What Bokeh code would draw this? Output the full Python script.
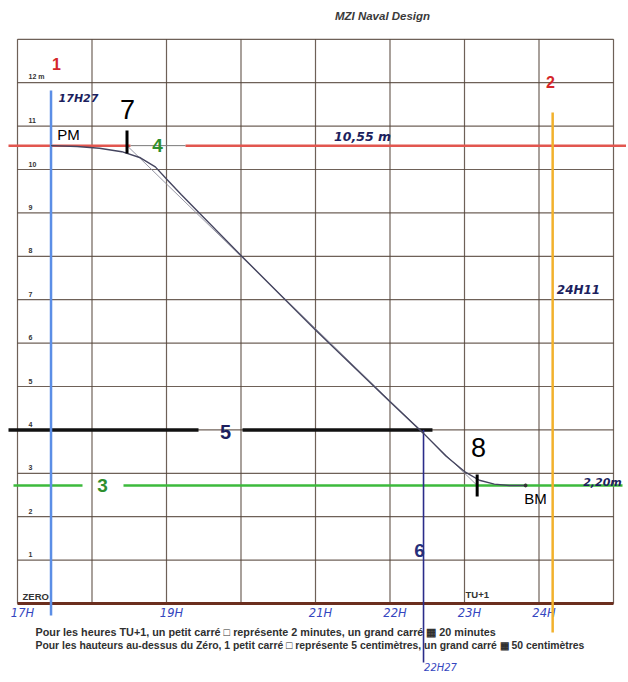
from bokeh.plotting import figure
from bokeh.models import Range1d
from bokeh.core.properties import value
from bokeh.embed import file_html
from bokeh.resources import INLINE

# ---------------- data ----------------
grid_hours = [17, 18, 19, 20, 21, 22, 23, 24, 25]
grid_heights = [0, 1, 2, 3, 4, 5, 6, 7, 8, 9, 10, 11, 12, 13]
height_labels = ["ZERO", "1", "2", "3", "4", "5", "6", "7", "8", "9", "10", "11", "12 m"]
hour_label_values = [17, 19, 21, 22, 23, 24]
hour_label_texts = ["17H", "19H", "21H", "22H", "23H", "24H"]

# tide curve (time in hours TU+1, height in m)
tide_time = [17.45, 17.8, 18.1, 18.4, 18.65, 18.85, 19.0, 19.2, 20.0, 21.0, 22.0,
             22.45, 22.75, 23.0, 23.2, 23.4, 23.6, 23.82]
tide_height = [10.55, 10.53, 10.49, 10.41, 10.27, 10.06, 9.78, 9.42, 8.02, 6.3, 4.65,
               3.92, 3.4, 3.04, 2.84, 2.75, 2.72, 2.72]

# straight construction line (marks 7 and 8)
chord_time = [18.47, 23.17]
chord_height = [10.55, 2.72]

pm_time = 17 + 27 / 60      # 17h27
pm_height = 10.55
bm_height = 2.72
line2_time = 24 + 11 / 60   # 24h11
level5_height = 4.0
line6_time = 22 + 27 / 60   # 22h27

# ---------------- geometry helpers (page pixels -> data) ----------------
X0, W = 17.0, 74.5
Y0, H = 603.0, 43.4
OX, OY = 0, 0
CW, CH = 626, 680


def tx(x):
    return 17 + (x - X0) / W


def hy(y):
    return (Y0 - y) / H


p = figure(width=CW, height=CH,
           x_range=Range1d(tx(OX), tx(OX + CW)), y_range=Range1d(hy(OY + CH), hy(OY)),
           output_backend="svg", toolbar_location=None, min_border=0)
p.axis.visible = False
p.grid.visible = False
p.outline_line_color = None
p.background_fill_color = "white"
p.border_fill_color = "white"

GRID = "#55453b"
# grid
p.segment(x0=grid_hours, y0=[0] * len(grid_hours), x1=grid_hours, y1=[13] * len(grid_hours),
          line_color=GRID, line_width=1.2, line_alpha=0.85)
p.segment(x0=[17] * len(grid_heights), y0=grid_heights, x1=[25] * len(grid_heights), y1=grid_heights,
          line_color=GRID, line_width=1.2, line_alpha=0.85)
p.segment(x0=[17], y0=[0], x1=[25], y1=[0], line_color="#6b2e1e", line_width=3)

FONT = value("Liberation Sans")
NAVY = "#1c1f5e"
HAND = "#3446c0"

# height labels
p.text(x=[tx(28)] * 12, y=[h + 3 / H for h in grid_heights[1:13]], text=height_labels[1:13],
       text_font=FONT, text_font_size="7px", text_font_style="bold",
       text_color="#333333", text_baseline="bottom", text_align="left")
p.text(x=[tx(22)], y=[hy(601)], text=[height_labels[0]], text_font=FONT, text_font_size="9.5px",
       text_font_style="bold", text_color="#333333", text_baseline="bottom", text_align="left")
p.text(x=[tx(465)], y=[hy(599)], text=["TU+1"], text_font=FONT, text_font_size="9.5px",
       text_font_style="bold", text_color="#333333", text_baseline="bottom", text_align="left")

# title
p.text(x=[tx(382)], y=[hy(15)], text=["MZI Naval Design"], text_font=FONT, text_font_size="11.5px",
       text_font_style="bold italic", text_color="#3a3a3a", text_align="center", text_baseline="middle")

# handwritten hour labels
p.text(x=hour_label_values, y=[hy(612)] * len(hour_label_values), text=hour_label_texts,
       text_font=value("DejaVu Sans"), text_font_size="11.5px", text_font_style="italic",
       text_color=HAND, text_align="center", text_baseline="middle", x_offset=5)

# footer
p.text(x=[tx(35)], y=[hy(631)],
       text=["Pour les heures TU+1, un petit carré \u25a1 représente 2 minutes,  un grand carré \u25a6 20  minutes"],
       text_font=FONT, text_font_size="10.8px", text_font_style="bold", text_color="#303030",
       text_baseline="middle", text_align="left")
p.text(x=[tx(35)], y=[hy(645)],
       text=["Pour les hauteurs au-dessus du Zéro, 1 petit carré \u25a1 représente 5 centimètres, un grand carré \u25a6  50 centimètres"],
       text_font=FONT, text_font_size="10.4px", text_font_style="bold", text_color="#303030",
       text_baseline="middle", text_align="left")

# red PM line (10.55 m) with gap around "4"
p.segment(x0=[tx(8), tx(185)], y0=[pm_height] * 2, x1=[tx(130), tx(628)], y1=[pm_height] * 2,
          line_color="#e2564f", line_width=2.5)
p.segment(x0=[tx(130)], y0=[pm_height], x1=[tx(185)], y1=[pm_height], line_color="#7a7a7a", line_width=1)
# green low-water line with gap around "3"
p.segment(x0=[tx(13), tx(123)], y0=[bm_height] * 2, x1=[tx(82), tx(622)], y1=[bm_height] * 2,
          line_color="#3cba3c", line_width=2.5)
# black 4 m line with gap around "5"
p.segment(x0=[tx(8), tx(242)], y0=[level5_height] * 2, x1=[tx(198), line6_time + 0.12],
          y1=[level5_height] * 2, line_color="#111111", line_width=3.5)
# blue vertical 1
p.segment(x0=[pm_time], y0=[hy(90)], x1=[pm_time], y1=[hy(615)], line_color="#5b8ee6", line_width=2.5)
# orange vertical 2
p.segment(x0=[line2_time], y0=[hy(112)], x1=[line2_time], y1=[hy(632)], line_color="#f2b12c", line_width=2.5)
# navy vertical 6
p.segment(x0=[line6_time], y0=[level5_height], x1=[line6_time], y1=[hy(662)], line_color="#2b2c8a", line_width=1.6)

# tide curve and construction chord
p.line(chord_time, chord_height, line_color="#8a8a9a", line_width=0.9)
p.line(tide_time, tide_height, line_color="#45455f", line_width=1.4)
p.scatter([tide_time[-1]], [tide_height[-1]], size=3, color="#333333")

# tick marks 7 and 8
p.segment(x0=[chord_time[0], chord_time[1]], y0=[hy(130), hy(474)],
          x1=[chord_time[0], chord_time[1]], y1=[hy(153), hy(496)], line_color="black", line_width=3)


# labels
def lab(x, y, t, size, color, style="normal", font=FONT, align="center"):
    p.text(x=[tx(x)], y=[hy(y)], text=[t], text_font=font, text_font_size=size, text_font_style=style,
           text_color=color, text_align=align, text_baseline="middle")


RED = "#d4262a"
GREEN = "#2e8f2e"
lab(56, 63, "1", "16px", RED, "bold")
lab(550, 81, "2", "16px", RED, "bold")
lab(127, 109, "7", "27px", "black")
lab(478, 447, "8", "27px", "black")
lab(157, 145, "4", "19px", GREEN, "bold")
lab(102, 485, "3", "19px", GREEN, "bold")
lab(225, 431, "5", "20px", NAVY, "bold")
lab(419, 550, "6", "19px", "#26307a", "bold")
lab(68, 134, "PM", "15px", "black")
lab(535, 498, "BM", "15px", "black")

HW = value("DejaVu Sans")
lab(78, 98, "17H27", "11px", NAVY, "bold italic", HW)
lab(362, 136, "10,55 m", "12.5px", NAVY, "bold italic", HW)
lab(578, 289, "24H11", "12px", NAVY, "bold italic", HW)
lab(602, 482, "2,20m", "11px", NAVY, "bold italic", HW)
lab(440, 667, "22H27", "10px", HAND, "italic", HW)

open("out.html", "w").write(file_html(p, INLINE))
